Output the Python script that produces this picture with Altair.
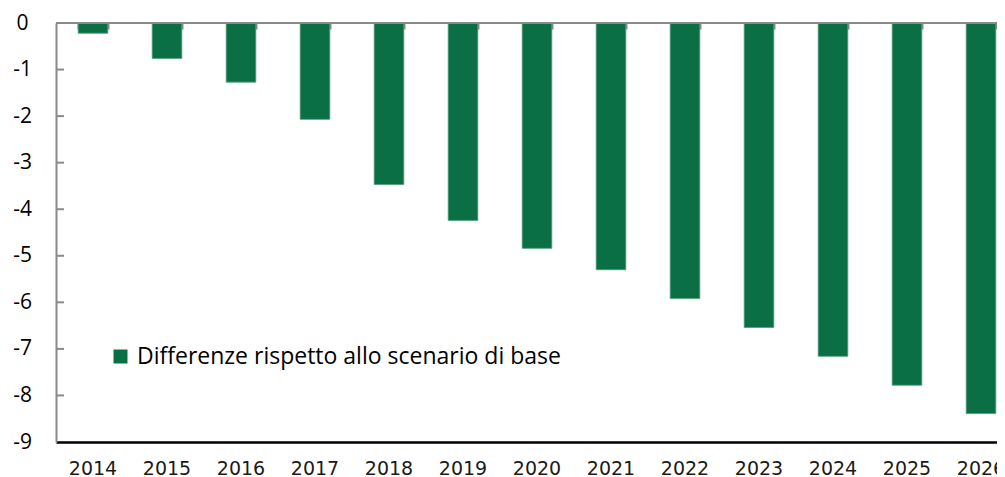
import altair as alt
import pandas as pd

years = ["2014", "2015", "2016", "2017", "2018", "2019", "2020",
         "2021", "2022", "2023", "2024", "2025", "2026"]
values = [-0.22, -0.76, -1.27, -2.07, -3.47, -4.24, -4.84,
          -5.30, -5.92, -6.54, -7.16, -7.78, -8.39]
series_name = "Differenze rispetto allo scenario di base"
y_tick_values = [0, -1, -2, -3, -4, -5, -6, -7, -8, -9]
inner_ticks = [-1, -2, -3, -4, -5, -6, -7, -8]

df = pd.DataFrame({"anno": years, "valore": values,
                   "serie": [series_name] * len(years)})
tick_df = pd.DataFrame({"valore": inner_ticks})

GREEN = "#0b6f45"
GRAY = "#8a8a8a"
W, H = 941, 419

xscale = alt.Scale(range=[0, 962], paddingInner=0.6, paddingOuter=0.3)
yscale = alt.Scale(domain=[-9, 0], nice=False, zero=False)
yaxis = alt.Axis(title=None, values=y_tick_values, ticks=False,
                 labelExpr="datum.value + ''",
                 domainColor=GRAY, domainWidth=2, grid=False,
                 labelFont="Open Sans", labelFontSize=21,
                 labelColor="black", labelAlign="center",
                 labelPadding=34)

bars = alt.Chart(df).mark_bar(stroke="#4f9a78", strokeWidth=0.8).encode(
    x=alt.X("anno:N", scale=xscale, sort=years,
            axis=alt.Axis(orient="bottom", title=None, labelAngle=0, ticks=False,
                          domainColor="black", domainWidth=2.5,
                          labelFont="DejaVu Sans", labelFontSize=19,
                          labelColor="#1a1a1a", labelPadding=17)),
    y=alt.Y("valore:Q", scale=yscale, axis=yaxis),
    color=alt.Color("serie:N", scale=alt.Scale(range=[GREEN]),
                    legend=alt.Legend(title=None, orient="none", legendX=53,
                                      legendY=322, symbolType="square",
                                      symbolSize=196, symbolStrokeWidth=0,
                                      labelFont="Open Sans", labelFontSize=23,
                                      labelColor="black", labelOffset=5,
                                      padding=0, labelLimit=700)),
)

top_axis = alt.Chart(df).mark_point(opacity=0).encode(
    x=alt.X("anno:N", scale=xscale, sort=years,
            axis=alt.Axis(orient="top", title=None, labels=False, domain=False,
                          offset=-6, tickSize=6, tickBand="extent",
                          tickColor=GRAY, tickWidth=2)),
)

top_line = alt.Chart(tick_df).mark_rule(color=GRAY, strokeWidth=2).encode(
    y=alt.datum(0, scale=yscale, axis=yaxis),
)

inner = alt.Chart(tick_df).mark_rule(color=GRAY, strokeWidth=2).encode(
    y=alt.Y("valore:Q", scale=yscale, axis=yaxis),
    x=alt.value(0),
    x2=alt.value(8),
)

chart = alt.layer(bars, top_line, inner, top_axis).resolve_axis(
    x="independent"
).properties(
    width=W, height=H,
    autosize=alt.AutoSizeParams(type="none"),
    padding={"left": 48, "top": 15, "right": 0, "bottom": 36},
).configure_view(stroke=None)

chart.save("out.html", embed_options={"renderer": "svg", "actions": False})
